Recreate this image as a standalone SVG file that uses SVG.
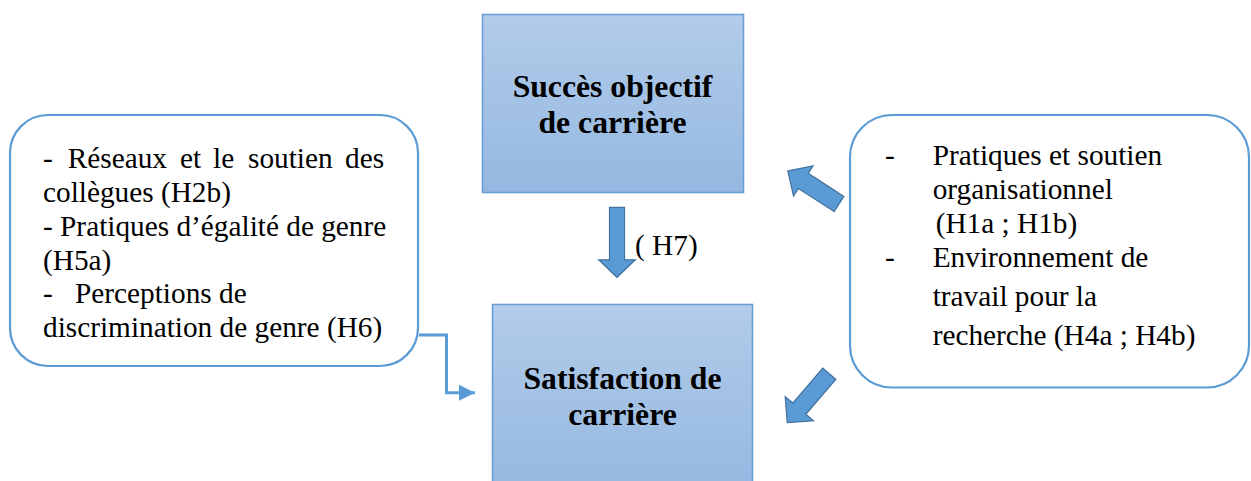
<svg xmlns="http://www.w3.org/2000/svg" width="1251" height="481" viewBox="0 0 1251 481">
<defs>
<linearGradient id="boxg" x1="0" y1="0" x2="0" y2="1">
<stop offset="0" stop-color="#B2CCE9"/>
<stop offset="1" stop-color="#94B7E1"/>
</linearGradient>
<marker id="ah" viewBox="0 0 10 10" refX="10" refY="5" markerWidth="5.4" markerHeight="5.4" orient="auto" markerUnits="strokeWidth">
<path d="M0,0 L10,5 L0,10 z" fill="#5B9BD5"/>
</marker>
<style>
.box{fill:url(#boxg);stroke:#6A9FD6;stroke-width:1.6}
.rbox{fill:#fff;stroke:#5B9BD5;stroke-width:2.2}
.t{font-size:29.3px;fill:#000}
.b{font-size:31.7px;font-weight:bold;fill:#000;text-anchor:middle}
.blk{fill:#5B9BD5;stroke:#41719C;stroke-width:1.2}
.con{fill:none;stroke:#5B9BD5;stroke-width:3}
</style>
</defs>
<rect width="1251" height="481" fill="#fff"/>
<g font-family="Liberation Serif, Times New Roman, DejaVu Serif, serif">
<g id="succes">
<rect class="box" x="482.5" y="14.5" width="261" height="178"/>
<text class="b" x="612.5" y="96.7">Succès objectif</text>
<text class="b" x="612.5" y="133.3">de carrière</text>
</g>
<g id="satisfaction">
<rect class="box" x="492.5" y="304.5" width="260" height="190"/>
<text class="b" x="622.5" y="389.3">Satisfaction de</text>
<text class="b" x="622.5" y="425">carrière</text>
</g>
<g id="gauche">
<rect class="rbox" x="10" y="115" width="408" height="251" rx="38" ry="38"/>
<text class="t" y="168"><tspan x="43">-</tspan><tspan x="67.7">Réseaux</tspan><tspan x="180">et</tspan><tspan x="213">le</tspan><tspan x="248">soutien</tspan><tspan x="345">des</tspan></text>
<text class="t" x="43" y="201.7">collègues (H2b)</text>
<text class="t" x="43" y="236">- Pratiques d’égalité de genre</text>
<text class="t" x="43" y="269.5">(H5a)</text>
<text class="t" y="303"><tspan x="43">-</tspan><tspan x="75">Perceptions de</tspan></text>
<text class="t" x="43" y="337">discrimination de genre (H6)</text>
</g>
<g id="droite">
<rect class="rbox" x="850" y="115" width="399" height="272.5" rx="42" ry="42"/>
<text class="t" x="885" y="165">-</text>
<text class="t" x="932.7" y="165">Pratiques et soutien</text>
<text class="t" x="932.7" y="199">organisationnel</text>
<text class="t" x="935.7" y="233.3">(H1a ; H1b)</text>
<text class="t" x="885" y="267.3">-</text>
<text class="t" x="932.7" y="267.3">Environnement de</text>
<text class="t" x="932.7" y="306">travail pour la</text>
<text class="t" x="932.7" y="345">recherche (H4a ; H4b)</text>
</g>
<g id="connecteurs">
<polygon class="blk" transform="translate(617,207.3) rotate(90)" points="0,-7.5 52.5,-7.5 52.5,-18.3 70,0 52.5,18.3 52.5,7.5 0,7.5"/>
<text class="t" x="635" y="255">( H7)</text>
<polygon class="blk" transform="translate(839,204) rotate(-147.1)" points="0,-9 42.5,-9 42.5,-18 61,0 42.5,18 42.5,9 0,9"/>
<polygon class="blk" transform="translate(829.3,373.8) rotate(130.7)" points="0,-8.6 46,-8.6 46,-18.6 64.5,0 46,18.6 46,8.6 0,8.6"/>
<path class="con" d="M419,335 H446.5 V392.7 H475" marker-end="url(#ah)"/>
</g>
</g>
</svg>
